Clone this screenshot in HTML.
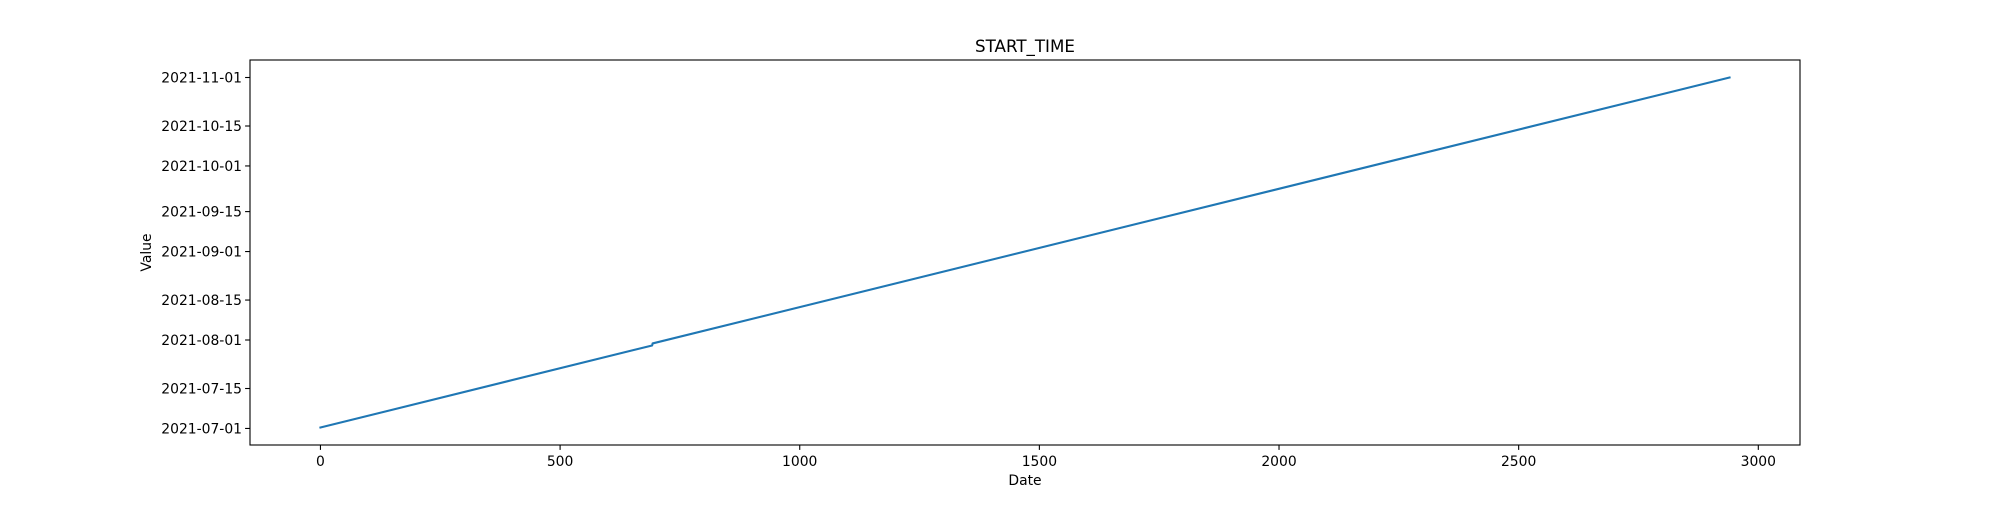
<!DOCTYPE html>
<html><head><meta charset="utf-8"><style>
html,body{margin:0;padding:0;background:#fff}
svg text{font-family:"DejaVu Sans","Liberation Sans",sans-serif;fill:#000}
</style></head><body>
<svg id="chart" width="2000" height="500" viewBox="0 0 2000 500" xmlns="http://www.w3.org/2000/svg">
<rect x="0" y="0" width="2000" height="500" fill="#fff"/>
<text x="1025" y="52" font-size="16.7" text-anchor="middle">START_TIME</text>
<text x="1025" y="485" font-size="13.9" text-anchor="middle">Date</text>
<text transform="translate(151,252.5) rotate(-90)" font-size="13.9" text-anchor="middle">Value</text>
<g id="marks"></g>
<rect x="250" y="60" width="1550" height="385" fill="none" stroke="#000" stroke-width="1.1"/>
</svg>
<script>
const xValues = [0, 692, 693, 2940];
const yDates = ["2021-07-01T08:00", "2021-07-30T02:00", "2021-07-30T19:00", "2021-11-01T00:00"];
const xTicks = [0, 500, 1000, 1500, 2000, 2500, 3000];
const yTickLabels = ["2021-07-01","2021-07-15","2021-08-01","2021-08-15","2021-09-01","2021-09-15","2021-10-01","2021-10-15","2021-11-01"];

const NS = "http://www.w3.org/2000/svg";
const L = 250, R = 1800, T = 60, B = 445;
const DAY = 86400000;
const toT = s => Date.parse(s + (s.length > 10 ? ":00Z" : "T00:00:00Z"));
const yT = yDates.map(toT);
const xmin = Math.min(...xValues), xmax = Math.max(...xValues);
const ymin = Math.min(...yT), ymax = Math.max(...yT);
const xpad = (xmax - xmin) * 0.05, ypad = (ymax - ymin) * 0.05;
const xs = v => L + (v - (xmin - xpad)) / ((xmax + xpad) - (xmin - xpad)) * (R - L);
const ys = t => B - (t - (ymin - ypad)) / ((ymax + ypad) - (ymin - ypad)) * (B - T);
const g = document.getElementById("marks");

function mk(tag, attrs) { const e = document.createElementNS(NS, tag); for (const k in attrs) e.setAttribute(k, attrs[k]); g.appendChild(e); return e; }

xTicks.forEach(v => {
  const x = xs(v);
  const tk = mk("line", {x1: x, x2: x, y1: B, y2: B + 4.9, stroke: "#000", "stroke-width": 1.1});
  
  
  const t = mk("text", {x: x, y: B + 21, "font-size": 13.9, "text-anchor": "middle"});
  t.textContent = v;
  
  
});
yTickLabels.forEach(s => {
  const y = ys(toT(s));
  const tk = mk("line", {x1: L - 4.9, x2: L, y1: y, y2: y, stroke: "#000", "stroke-width": 1.1});
  
  
  const t = mk("text", {x: L - 8, y: y + 5, "font-size": 13.9, "text-anchor": "end"});
  t.textContent = s;
  
  
});
const pts = xValues.map((v, i) => xs(v).toFixed(2) + "," + ys(yT[i]).toFixed(2)).join(" ");
const line = mk("polyline", {points: pts, fill: "none", stroke: "#1f77b4", "stroke-width": 2.1, "stroke-linejoin": "round", "stroke-linecap": "square"});


</script>
</body></html>
